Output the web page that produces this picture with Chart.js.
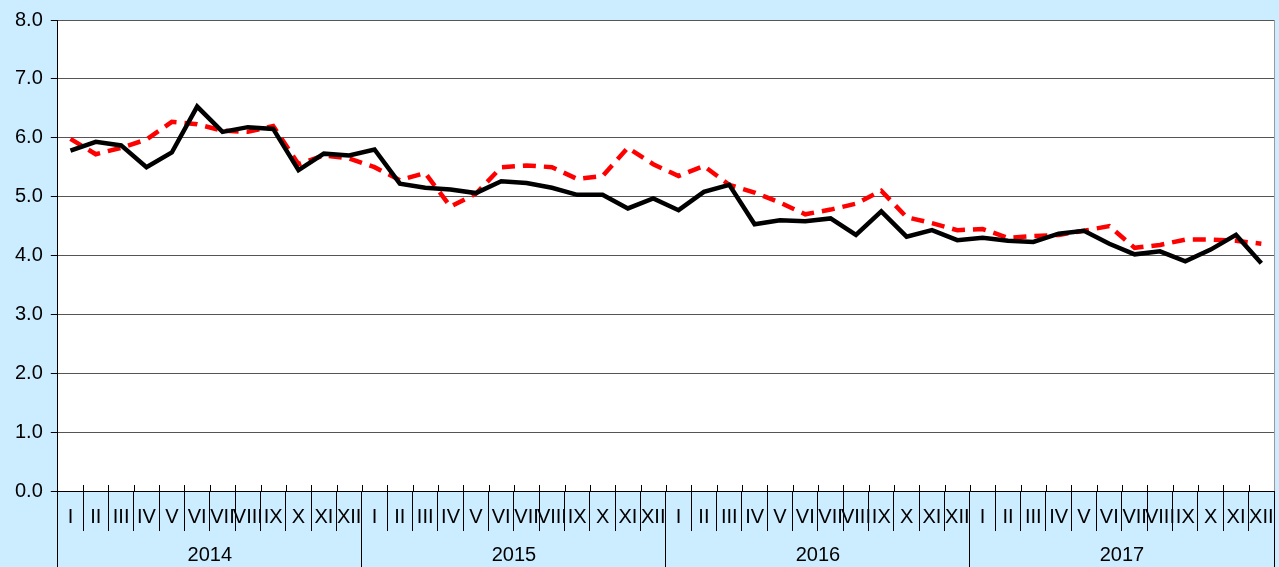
<!DOCTYPE html>
<html>
<head>
<meta charset="utf-8">
<script src="https://cdn.jsdelivr.net/npm/chart.js@4"></script>
<style>
  html, body { margin: 0; padding: 0; background: #CCECFF; }
  #wrap { width: 1279px; height: 567px; }
</style>
</head>
<body>
<div id="wrap"><canvas id="chart" width="1279" height="567"></canvas></div>
<script>
// datos
var meses = ['I','II','III','IV','V','VI','VII','VIII','IX','X','XI','XII'];
var anios = ['2014', '2015', '2016', '2017'];
var yTicks = [0, 1, 2, 3, 4, 5, 6, 7, 8];

var serieNegra = [
    5.78, 5.93, 5.87, 5.50, 5.75, 6.53, 6.10, 6.18, 6.15, 5.45, 5.73, 5.70,
    5.80, 5.22, 5.15, 5.12, 5.06, 5.26, 5.23, 5.15, 5.03, 5.03, 4.80, 4.97,
    4.77, 5.08, 5.20, 4.53, 4.60, 4.58, 4.63, 4.35, 4.75, 4.32, 4.43, 4.26,
    4.30, 4.25, 4.23, 4.37, 4.42, 4.20, 4.02, 4.07, 3.90, 4.10, 4.35, 3.87
];
var serieRoja = [
    5.98, 5.72, 5.83, 5.97, 6.27, 6.23, 6.12, 6.10, 6.20, 5.55, 5.70, 5.65,
    5.50, 5.28, 5.40, 4.83, 5.05, 5.50, 5.53, 5.50, 5.30, 5.35, 5.83, 5.55,
    5.35, 5.52, 5.20, 5.07, 4.90, 4.70, 4.78, 4.88, 5.10, 4.65, 4.55, 4.43,
    4.45, 4.30, 4.33, 4.35, 4.42, 4.50, 4.13, 4.18, 4.27, 4.27, 4.25, 4.20
];

// etiquetas de meses para los 4 años
var etiquetas = [];
anios.forEach(function () { etiquetas = etiquetas.concat(meses); });

// fondo blanco del area de la grafica y marcas cortas sobre el eje x
var fondoArea = {
    id: 'fondoArea',
    beforeDraw: function (chart) {
        var a = chart.chartArea, ctx = chart.ctx;
        ctx.save();
        ctx.fillStyle = '#FFFFFF';
        ctx.fillRect(a.left, a.top, a.right - a.left, a.bottom - a.top);
        ctx.strokeStyle = '#9A9A9A';
        ctx.lineWidth = 1;
        ctx.beginPath();
        ctx.moveTo(a.right + 0.5, a.top);
        ctx.lineTo(a.right + 0.5, a.bottom);
        ctx.stroke();
        ctx.restore();
    },
    beforeDatasetsDraw: function (chart) {
        var a = chart.chartArea, ctx = chart.ctx, x = chart.scales.x;
        ctx.save();
        ctx.strokeStyle = '#000';
        ctx.lineWidth = 1;
        ctx.beginPath();
        for (var i = 1; i < etiquetas.length; i++) {
            var px = Math.round(x.getPixelForValue(i - 0.5)) + 0.5;
            ctx.moveTo(px, a.bottom - 6);
            ctx.lineTo(px, a.bottom);
        }
        ctx.stroke();
        ctx.restore();
    }
};

var fuente = { family: '"Liberation Sans", Arial, sans-serif', size: 20 };
Chart.defaults.color = '#000';

var ctx = document.getElementById('chart').getContext('2d');
var chart = new Chart(ctx, {
    type: 'line',
    data: {
        labels: etiquetas,
        datasets: [{
            data: serieNegra,
            borderColor: '#000000',
            borderWidth: 4.5,
            pointRadius: 0,
            tension: 0,
            order: 0
        }, {
            data: serieRoja,
            borderColor: '#FF0000',
            borderWidth: 4.5,
            borderDash: [13, 8],
            pointRadius: 0,
            tension: 0,
            order: 1
        }]
    },
    options: {
        responsive: false,
        animation: false,
        layout: { padding: { top: 9, right: 5, left: 7, bottom: 0 } },
        plugins: { legend: { display: false }, tooltip: { enabled: false } },
        scales: {
            y: {
                min: 0,
                max: 8,
                afterBuildTicks: function (s) { s.ticks = yTicks.map(function (v) { return { value: v }; }); },
                ticks: {
                    font: fuente,
                    padding: 8,
                    callback: function (v) { return v.toFixed(1); }
                },
                grid: { color: '#555555', lineWidth: 1, tickLength: 7, tickColor: '#000' },
                border: { color: '#000', width: 1 }
            },
            x: {
                offset: true,
                ticks: { font: fuente, autoSkip: false, maxRotation: 0, minRotation: 0, padding: -26 },
                grid: { offset: true, drawOnChartArea: false, tickLength: 40, color: '#000', lineWidth: 1 },
                border: { color: '#000', width: 1 },
                afterFit: function (s) { s.height = 40; }
            },
            anio: {
                type: 'category',
                position: 'bottom',
                labels: anios,
                offset: true,
                ticks: { font: fuente, autoSkip: false, maxRotation: 0, padding: -24 },
                grid: { offset: true, drawOnChartArea: false, tickLength: 36, color: '#000', lineWidth: 1 },
                border: { display: false },
                afterFit: function (s) { s.height = 36; }
            }
        }
    },
    plugins: [fondoArea]
});
</script>
</body>
</html>
